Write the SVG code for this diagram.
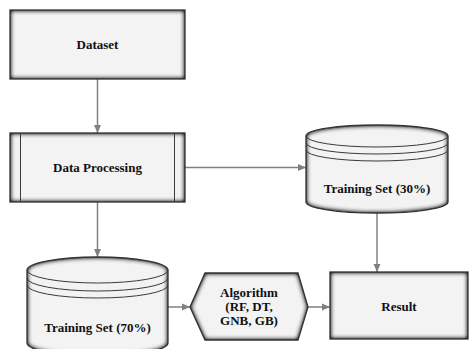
<svg xmlns="http://www.w3.org/2000/svg" width="470" height="349" viewBox="0 0 470 349">
<defs>
<style>
.shape{fill:#f3f3f3}
.edge{fill:none;stroke:#333;stroke-width:1.3}
.thin{fill:none;stroke:#3a3a3a;stroke-width:1}
.lbl{font-family:"Liberation Serif","Times New Roman",serif;font-weight:bold;font-size:13px;fill:#111;text-anchor:middle}
.conn{fill:none;stroke:#808080;stroke-width:1.5}
</style>
<filter id="inner" x="-10%" y="-10%" width="120%" height="120%" color-interpolation-filters="sRGB">
<feFlood flood-color="#000000" flood-opacity="1" result="f"/>
<feComposite in="f" in2="SourceAlpha" operator="out" result="o"/>
<feGaussianBlur in="o" stdDeviation="2.5" result="b"/>
<feComponentTransfer in="b" result="b2"><feFuncA type="linear" slope="1.4"/></feComponentTransfer>
<feComposite in="b2" in2="SourceAlpha" operator="in" result="s"/>
<feMerge><feMergeNode in="SourceGraphic"/><feMergeNode in="s"/></feMerge>
</filter>
<marker id="arr" markerUnits="userSpaceOnUse" markerWidth="8" markerHeight="8" viewBox="0 0 8 8" refX="8" refY="4" orient="auto">
<path d="M0,0.5 L8,4 L0,7.5 Z" fill="#808080"/>
</marker>
</defs>

<g id="connectors">
<line class="conn" x1="97.5" y1="79" x2="97.5" y2="133" marker-end="url(#arr)"/>
<line class="conn" x1="185" y1="167.5" x2="306" y2="167.5" marker-end="url(#arr)"/>
<line class="conn" x1="97.5" y1="202" x2="97.5" y2="257" marker-end="url(#arr)"/>
<line class="conn" x1="377" y1="213" x2="377" y2="272" marker-end="url(#arr)"/>
<line class="conn" x1="168" y1="307" x2="190" y2="307" marker-end="url(#arr)"/>
<line class="conn" x1="308" y1="307" x2="330" y2="307" marker-end="url(#arr)"/>
</g>

<g id="dataset">
<rect class="shape" filter="url(#inner)" x="10" y="10" width="175" height="69"/>
<rect class="edge" x="10" y="10" width="175" height="69"/>
<text class="lbl" x="97.5" y="48.5">Dataset</text>
</g>

<g id="data-processing">
<rect class="shape" filter="url(#inner)" x="10" y="133" width="175" height="69"/>
<rect class="edge" x="10" y="133" width="175" height="69"/>
<line class="thin" x1="20.5" y1="133" x2="20.5" y2="202"/>
<line class="thin" x1="174.5" y1="133" x2="174.5" y2="202"/>
<text class="lbl" x="97.5" y="171.5">Data Processing</text>
</g>

<g id="training-30">
<path class="shape" filter="url(#inner)" d="M306,136 A71,11 0 0 1 448,136 L448,202 A71,11 0 0 1 306,202 Z"/>
<path class="edge" d="M306,136 A71,11 0 0 1 448,136 L448,202 A71,11 0 0 1 306,202 Z"/>
<path class="thin" d="M306,136 A71,11 0 0 0 448,136"/>
<path class="thin" d="M306,143 A71,11 0 0 0 448,143"/>
<path class="thin" d="M306,150 A71,11 0 0 0 448,150"/>
<text class="lbl" x="377" y="192.5">Training Set (30%)</text>
</g>

<g id="training-70">
<path class="shape" filter="url(#inner)" d="M27,270 A70.5,13 0 0 1 168,270 L168,343 A70.5,13 0 0 1 27,343 Z"/>
<path class="edge" d="M27,270 A70.5,13 0 0 1 168,270 L168,343 A70.5,13 0 0 1 27,343 Z"/>
<path class="thin" d="M27,270 A70.5,13 0 0 0 168,270"/>
<path class="thin" d="M27,278 A70.5,13 0 0 0 168,278"/>
<path class="thin" d="M27,285 A70.5,13 0 0 0 168,285"/>
<text class="lbl" x="97.5" y="331.5">Training Set (70%)</text>
</g>

<g id="algorithm">
<polygon class="shape" filter="url(#inner)" points="190,307 205,273 298,273 308,307 298,340 205,340"/>
<polygon class="edge" points="190,307 205,273 298,273 308,307 298,340 205,340"/>
<text class="lbl" x="249" y="296.5">Algorithm</text>
<text class="lbl" x="249" y="310.5">(RF, DT,</text>
<text class="lbl" x="249" y="324.5">GNB, GB)</text>
</g>

<g id="result">
<rect class="shape" filter="url(#inner)" x="330" y="272" width="138" height="67"/>
<rect class="edge" x="330" y="272" width="138" height="67"/>
<text class="lbl" x="399" y="310.5">Result</text>
</g>
</svg>
